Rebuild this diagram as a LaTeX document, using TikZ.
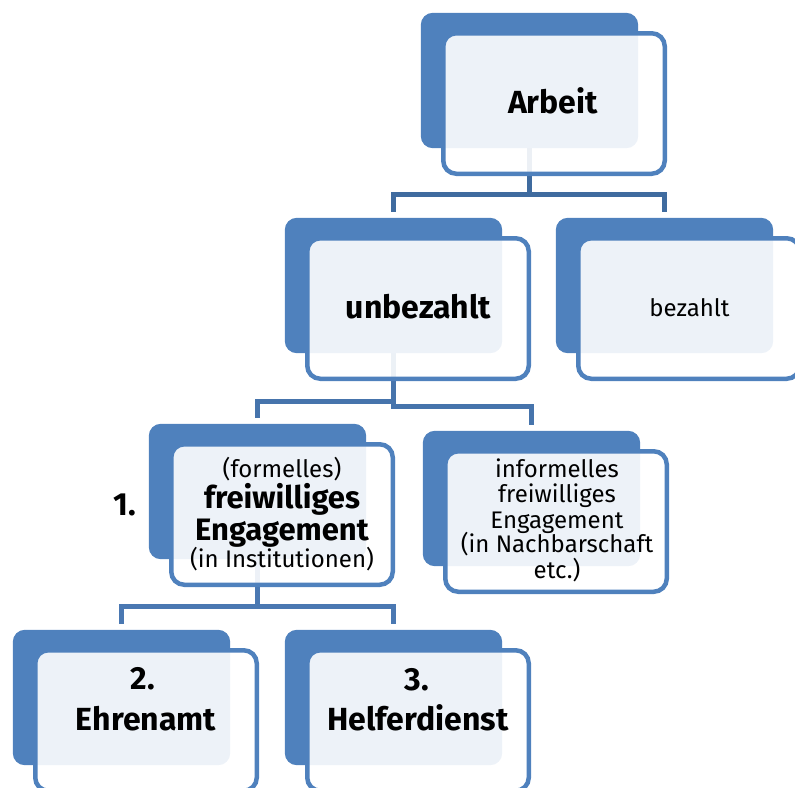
\documentclass[tikz,border=0pt]{standalone}
\usepackage{fontspec}
\setmainfont{Fira Sans}
\definecolor{acc}{HTML}{4F81BD}
\definecolor{conA}{HTML}{3F6B9F}
\definecolor{conB}{HTML}{4674AC}
\definecolor{conC}{HTML}{4A78B2}
\tikzset{
  backbox/.style={rectangle, fill=acc, draw=none, rounded corners=12pt,
    minimum width=217pt, minimum height=135pt, inner sep=0pt},
  frontbox/.style={rectangle, draw=acc, line width=4.5pt, fill=white, fill opacity=0.9,
    rounded corners=13pt, minimum width=221.5pt, minimum height=140.5pt, inner sep=0pt},
  conn/.style={line width=5pt},
  boldbig/.style={anchor=base, inner sep=0pt, font=\fontsize{32}{32}\bfseries\selectfont},
  boldmid/.style={anchor=base, inner sep=0pt, font=\fontsize{31}{31}\bfseries\selectfont},
  regtxt/.style={anchor=base, inner sep=0pt, font=\fontsize{24}{24}\selectfont},
  regsmall/.style={anchor=base, inner sep=0pt, font=\fontsize{24}{24}\selectfont},
}
\begin{document}
\begin{tikzpicture}[x=1pt, y=-1pt]
\useasboundingbox (0,0) rectangle (795,787);
\clip (0,0) rectangle (795,787);

% back boxes (positions)
\coordinate (pA) at (529.5,80.5);
\coordinate (pU) at (393.5,285.5);
\coordinate (pB) at (664.5,285.5);
\coordinate (p1) at (257.5,491.5);
\coordinate (pI) at (531.5,498.5);
\coordinate (pE) at (121.5,697.5);
\coordinate (pH) at (393.5,697.5);

% bar heights
\coordinate (barA) at (0,194.5);
\coordinate (barUL) at (0,401.5);
\coordinate (barUR) at (0,406);
\coordinate (barC) at (0,606.5);

% back boxes as anchors for connectors
\path (pA) node[backbox, fill=none] (dA) {};
\path (pU) node[backbox, fill=none] (dU) {};
\path (pB) node[backbox, fill=none] (dB) {};
\path (p1) node[backbox, fill=none] (d1) {};
\path (pI) node[backbox, fill=none] (dI) {};
\path (pE) node[backbox, fill=none] (dE) {};
\path (pH) node[backbox, fill=none] (dH) {};

% connectors
\draw[conn, draw=conA] (dA.south) -- (dA.south |- barA) -| ([yshift=6pt]dU.north);
\draw[conn, draw=conA] (dA.south |- barA) -| ([yshift=6pt]dB.north);
\draw[conn, draw=conB] (dU.south) -- (dU.south |- barUL) -| ([yshift=6pt]d1.north);
\draw[conn, draw=conB] (dU.south) -- (dU.south |- barUR) -| ([yshift=6pt]dI.north);
\draw[conn, draw=conC] (d1.south) -- (d1.south |- barC) -| ([yshift=6pt]dE.north);
\draw[conn, draw=conC] (d1.south |- barC) -| ([yshift=6pt]dH.north);

% filled back boxes
\foreach \n in {dA,dU,dB,d1,dI,dE,dH}{
  \fill[acc, rounded corners=12pt] (\n.south west) rectangle (\n.north east);
}

% front boxes
\node[frontbox] (fA) at ([shift={(24.5,23)}]pA) {};
\node[frontbox] (fU) at ([shift={(24.5,23)}]pU) {};
\node[frontbox] (fB) at ([shift={(24.5,23)}]pB) {};
\node[frontbox] (f1) at ([shift={(24.5,23)}]p1) {};
\node[frontbox] (fI) at ([shift={(24.5,23)}]pI) {};
\node[frontbox] (fE) at ([shift={(24.5,23)}]pE) {};
\node[frontbox] (fH) at ([shift={(24.5,23)}]pH) {};

% texts
\node[boldbig] (tA) at (553,113) {Arbeit};
\node[boldbig] (tU) at (418.5,318) {unbezahlt};
\node[regsmall] (tB) at (689.5,316) {bezahlt};

\node[boldbig] (n1) at (125,515) {1.};
\node[regtxt] (t1a) at (282,477) {(formelles)};
\node[boldmid] (t1b) at (282,508) {freiwilliges};
\node[boldmid] (t1c) at (282,540) {Engagement};
\node[regtxt] (t1d) at (282,567) {(in Institutionen)};

\node[regtxt] (tIa) at (557,477) {informelles};
\node[regtxt] (tIb) at (557,502) {freiwilliges};
\node[regtxt] (tIc) at (557,528) {Engagement};
\node[regtxt] (tId) at (557,552) {(in Nachbarschaft};
\node[regtxt] (tIe) at (557,578) {etc.)};

\node[boldbig] (n2) at (143,689) {2.};
\node[boldbig] (tE) at (146,730) {Ehrenamt};
\node[boldbig] (n3) at (417,690) {3.};
\node[boldbig] (tH) at (418,730) {Helferdienst};
\end{tikzpicture}
\end{document}
